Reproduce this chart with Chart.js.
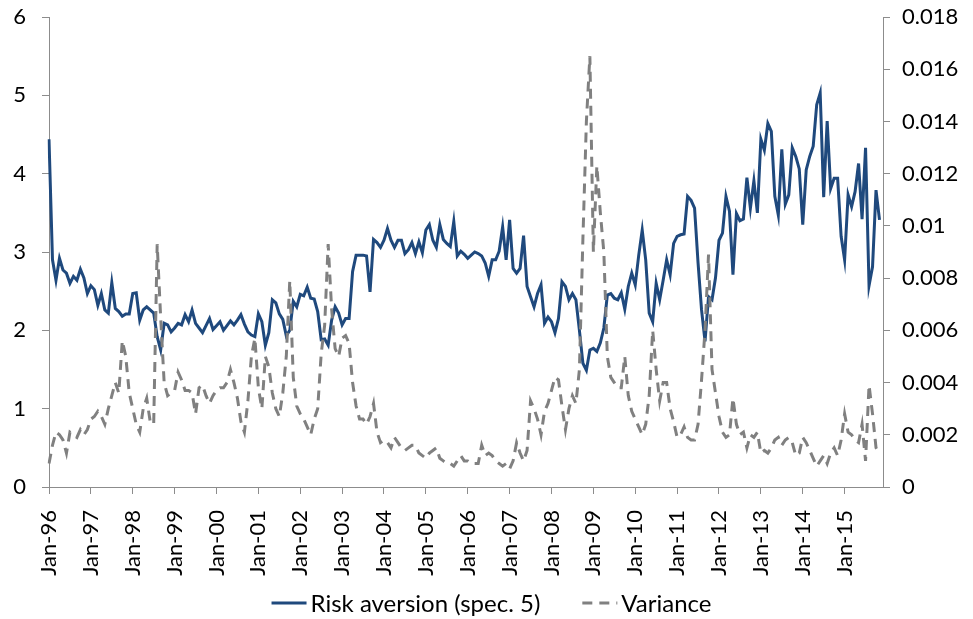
<!DOCTYPE html>
<html>
<head>
<meta charset="utf-8">
<title>Risk aversion and variance</title>
<script src="https://cdn.jsdelivr.net/npm/chart.js@4"></script>
<style>
    html, body { margin: 0; padding: 0; background: #ffffff; }
    #wrap { width: 973px; height: 619px; }
</style>
</head>
<body>
<div id="wrap"><canvas id="risk-chart" width="973" height="619"></canvas></div>
<script>
// months Jan-96 .. Dec-15 (category axis)
const monthNames = ['Jan', 'Feb', 'Mar', 'Apr', 'May', 'Jun', 'Jul', 'Aug', 'Sep', 'Oct', 'Nov', 'Dec'];
const yearLabels = ['96', '97', '98', '99', '00', '01', '02', '03', '04', '05',
                    '06', '07', '08', '09', '10', '11', '12', '13', '14', '15'];

// left axis
const leftTicks = [0, 1, 2, 3, 4, 5, 6];
// right axis
const rightTicks = [0, 0.002, 0.004, 0.006, 0.008, 0.01, 0.012, 0.014, 0.016, 0.018];

// Risk aversion (spec. 5), monthly, one row per year
const riskAversion = [
    4.44, 2.90, 2.64, 2.92, 2.77, 2.73, 2.60, 2.69, 2.64, 2.78, 2.67, 2.47, // 96
    2.57, 2.52, 2.32, 2.47, 2.26, 2.22, 2.61, 2.28, 2.24, 2.18, 2.21, 2.21, // 97
    2.47, 2.48, 2.13, 2.26, 2.30, 2.26, 2.22, 1.92, 1.75, 2.09, 2.07, 1.98, // 98
    2.03, 2.09, 2.07, 2.20, 2.11, 2.26, 2.09, 2.03, 1.97, 2.06, 2.15, 2.01, // 99
    2.06, 2.11, 2.00, 2.06, 2.12, 2.07, 2.13, 2.20, 2.08, 1.98, 1.94, 1.92, // 00
    2.21, 2.11, 1.81, 1.97, 2.39, 2.35, 2.21, 2.14, 1.93, 2.00, 2.37, 2.30, // 01
    2.46, 2.44, 2.55, 2.41, 2.40, 2.24, 1.88, 1.89, 1.81, 2.13, 2.30, 2.22, // 02
    2.07, 2.15, 2.15, 2.75, 2.96, 2.96, 2.96, 2.95, 2.49, 3.16, 3.12, 3.06, // 03
    3.15, 3.30, 3.15, 3.06, 3.15, 3.15, 2.98, 3.03, 3.12, 2.98, 3.13, 2.99, // 04
    3.28, 3.35, 3.15, 3.06, 3.35, 3.16, 3.11, 3.07, 3.39, 2.95, 3.01, 2.97, // 05
    2.92, 2.96, 3.00, 2.98, 2.95, 2.86, 2.69, 2.90, 2.90, 3.01, 3.32, 2.90, // 06
    3.41, 2.79, 2.73, 2.79, 3.21, 2.56, 2.43, 2.30, 2.47, 2.58, 2.09, 2.17, // 07
    2.11, 1.97, 2.15, 2.62, 2.56, 2.39, 2.47, 2.39, 2.00, 1.58, 1.49, 1.75, // 08
    1.77, 1.73, 1.84, 2.03, 2.45, 2.47, 2.41, 2.39, 2.48, 2.27, 2.56, 2.73, // 09
    2.58, 2.96, 3.28, 2.90, 2.22, 2.11, 2.60, 2.39, 2.64, 2.90, 2.71, 3.11, // 10
    3.20, 3.22, 3.23, 3.71, 3.66, 3.56, 2.86, 2.26, 1.86, 2.43, 2.39, 2.67, // 11
    3.15, 3.24, 3.71, 3.52, 2.71, 3.49, 3.40, 3.42, 3.95, 3.56, 3.91, 3.50, // 12
    4.44, 4.30, 4.64, 4.54, 3.71, 3.47, 4.31, 3.61, 3.73, 4.33, 4.22, 4.06, // 13
    3.35, 4.05, 4.22, 4.35, 4.88, 5.03, 3.70, 4.67, 3.81, 3.94, 3.94, 3.20, // 14
    2.90, 3.73, 3.58, 3.77, 4.13, 3.42, 4.33, 2.57, 2.81, 3.79, 3.41        // 15
];

// Variance, monthly, right axis
const variance = [
    0.0009, 0.0016, 0.0021, 0.0020, 0.0018, 0.0013, 0.0021, 0.0020, 0.0019, 0.0022, 0.0020, 0.0022, // 96
    0.0026, 0.0027, 0.0029, 0.0027, 0.0024, 0.0030, 0.0035, 0.0040, 0.0036, 0.0056, 0.0050, 0.0036, // 97
    0.0030, 0.0024, 0.0021, 0.0030, 0.0034, 0.0025, 0.0024, 0.0093, 0.0065, 0.0040, 0.0035, 0.0036, // 98
    0.0037, 0.0044, 0.0041, 0.0037, 0.0037, 0.0036, 0.0028, 0.0038, 0.0039, 0.0035, 0.0032, 0.0035, // 99
    0.0037, 0.0038, 0.0038, 0.0040, 0.0045, 0.0040, 0.0034, 0.0025, 0.0021, 0.0033, 0.0050, 0.0057, // 00
    0.0038, 0.0030, 0.0050, 0.0046, 0.0036, 0.0030, 0.0027, 0.0036, 0.0050, 0.0079, 0.0042, 0.0031, // 01
    0.0028, 0.0026, 0.0023, 0.0020, 0.0026, 0.0030, 0.0051, 0.0062, 0.0093, 0.0068, 0.0053, 0.0050, // 02
    0.0057, 0.0058, 0.0055, 0.0040, 0.0031, 0.0026, 0.0026, 0.0024, 0.0027, 0.0032, 0.0021, 0.0017, // 03
    0.0018, 0.0017, 0.0015, 0.0019, 0.0017, 0.0015, 0.0014, 0.0015, 0.0016, 0.0016, 0.0013, 0.0012, // 04
    0.0011, 0.0013, 0.0014, 0.0015, 0.0011, 0.0010, 0.0009, 0.0009, 0.0008, 0.0010, 0.0012, 0.0010, // 05
    0.0010, 0.0009, 0.0009, 0.0009, 0.0016, 0.0012, 0.0013, 0.0012, 0.0010, 0.0009, 0.0008, 0.0009, // 06
    0.0007, 0.0010, 0.0017, 0.0013, 0.0010, 0.0014, 0.0033, 0.0030, 0.0026, 0.0020, 0.0029, 0.0032, // 07
    0.0037, 0.0042, 0.0041, 0.0031, 0.0022, 0.0030, 0.0035, 0.0032, 0.0045, 0.0095, 0.0140, 0.0165, // 08
    0.0090, 0.0123, 0.0105, 0.0090, 0.0050, 0.0042, 0.0040, 0.0038, 0.0038, 0.0050, 0.0035, 0.0029, // 09
    0.0026, 0.0023, 0.0020, 0.0024, 0.0035, 0.0060, 0.0045, 0.0033, 0.0040, 0.0040, 0.0030, 0.0025, // 10
    0.0019, 0.0020, 0.0023, 0.0019, 0.0018, 0.0018, 0.0024, 0.0041, 0.0060, 0.0089, 0.0045, 0.0036, // 11
    0.0027, 0.0021, 0.0019, 0.0020, 0.0034, 0.0024, 0.0020, 0.0021, 0.0015, 0.0020, 0.0019, 0.0021, // 12
    0.0013, 0.0014, 0.0013, 0.0015, 0.0018, 0.0019, 0.0016, 0.0018, 0.0019, 0.0017, 0.0012, 0.0013, // 13
    0.0019, 0.0017, 0.0014, 0.0011, 0.0008, 0.0010, 0.0012, 0.0009, 0.0013, 0.0015, 0.0012, 0.0018, // 14
    0.0028, 0.0021, 0.0020, 0.0018, 0.0017, 0.0024, 0.0010, 0.0039, 0.0028, 0.0015, 0.0013          // 15
];

const monthLabels = [];
yearLabels.forEach(yy => monthNames.forEach(m => monthLabels.push(m + '-' + yy)));

const axisGray = '#8c8c8c';
const fontFamily = 'Lato, "Open Sans", sans-serif';
const tickFont = { family: fontFamily, size: 22 };

// legend drawn under the axis labels: line sample + text, centred
const bottomLegend = {
    id: 'bottomLegend',
    afterDraw(chart) {
        const ctx = chart.ctx;
        const y = 603;
        const sampleW = 35, textGap = 4, itemGap = 42;
        ctx.save();
        ctx.font = '24px ' + fontFamily;
        const sets = chart.data.datasets;
        const widths = sets.map(ds => ctx.measureText(ds.label).width);
        let total = itemGap * (sets.length - 1);
        widths.forEach(w => { total += sampleW + textGap + w; });
        let x = chart.width / 2 + 5 - total / 2;
        sets.forEach((ds, i) => {
            ctx.strokeStyle = ds.borderColor;
            ctx.lineWidth = ds.borderWidth;
            ctx.setLineDash(ds.borderDash || []);
            ctx.beginPath();
            ctx.moveTo(x, y);
            ctx.lineTo(x + sampleW, y);
            ctx.stroke();
            ctx.setLineDash([]);
            ctx.fillStyle = '#000000';
            ctx.textAlign = 'left';
            ctx.textBaseline = 'middle';
            ctx.fillText(ds.label, x + sampleW + textGap, y + 1);
            x += sampleW + textGap + widths[i] + itemGap;
        });
        ctx.restore();
    }
};

// keep the plot box where the reference has it (labels may overhang)
function fixWidth(w) {
    return s => {
        s.width = w;
        s.paddingTop = 0;
        s.paddingBottom = 0;
    };
}

new Chart(document.getElementById('risk-chart'), {
    type: 'line',
    data: {
        labels: monthLabels,
        datasets: [
            {
                label: 'Risk aversion (spec. 5)',
                data: riskAversion,
                yAxisID: 'y',
                borderColor: '#1f497d',
                backgroundColor: '#1f497d',
                borderWidth: 3,
                pointRadius: 0,
                tension: 0,
                order: 2
            },
            {
                label: 'Variance',
                data: variance,
                yAxisID: 'y1',
                borderColor: '#808080',
                backgroundColor: '#808080',
                borderWidth: 3,
                borderDash: [10, 7],
                pointRadius: 0,
                tension: 0,
                order: 1
            }
        ]
    },
    options: {
        responsive: false,
        animation: false,
        layout: { padding: { top: 17, left: 0, right: 0, bottom: 42 } },
        plugins: {
            tooltip: { enabled: false },
            title: { display: false },
            legend: { display: false }
        },
        scales: {
            x: {
                type: 'category',
                offset: false,
                border: { color: axisGray, width: 1 },
                grid: { drawOnChartArea: false, color: axisGray, tickLength: 7 },
                ticks: {
                    autoSkip: false,
                    minRotation: 90,
                    maxRotation: 90,
                    padding: 16,
                    color: '#000000',
                    font: tickFont,
                    callback: function (val, i) {
                        return i % 12 === 0 ? this.getLabelForValue(val) : null;
                    }
                },
                afterFit: s => { s.height = 90; }
            },
            y: {
                position: 'left',
                min: 0,
                max: 6,
                border: { color: axisGray, width: 1 },
                grid: { drawOnChartArea: false, color: axisGray, tickLength: 7 },
                afterBuildTicks: s => { s.ticks = leftTicks.map(v => ({ value: v })); },
                ticks: { padding: 16, color: '#000000', font: tickFont },
                afterFit: fixWidth(49)
            },
            y1: {
                position: 'right',
                min: 0,
                max: 0.018,
                border: { color: axisGray, width: 1 },
                grid: { drawOnChartArea: false, color: axisGray, tickLength: 7 },
                afterBuildTicks: s => { s.ticks = rightTicks.map(v => ({ value: v })); },
                ticks: {
                    padding: 12,
                    color: '#000000',
                    font: tickFont,
                    callback: v => String(+v.toFixed(3))
                },
                afterFit: fixWidth(90)
            }
        }
    },
    plugins: [bottomLegend]
});
</script>
</body>
</html>
